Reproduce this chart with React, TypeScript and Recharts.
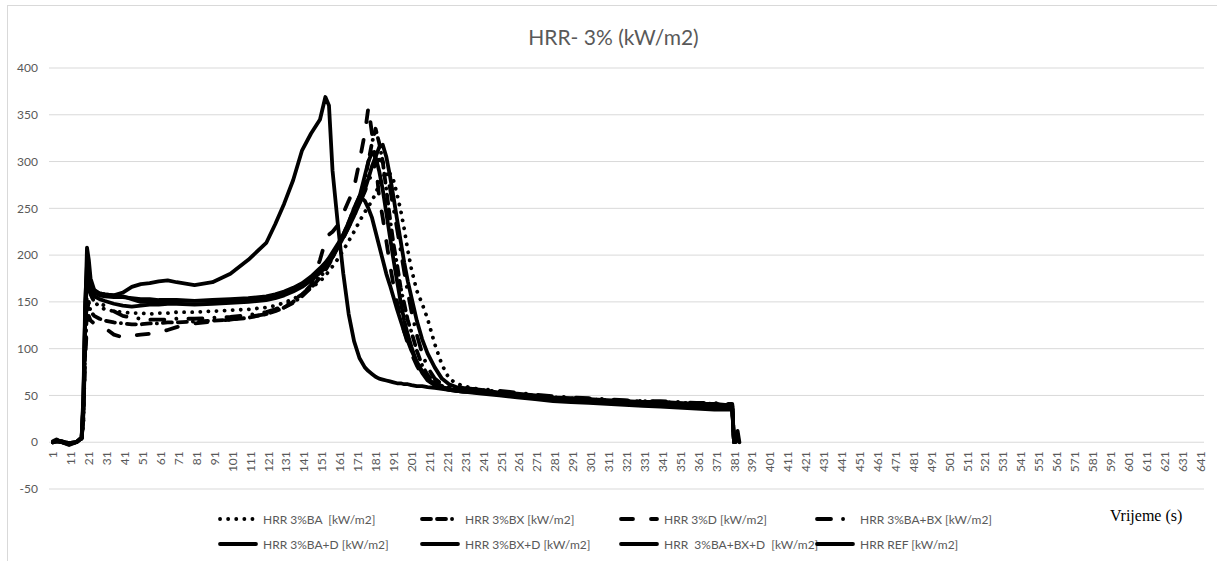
import { LineChart, Line, XAxis, YAxis, CartesianGrid } from "recharts";

// sample times (s)
const TIME = [
  1, 3, 6, 10, 14, 17, 18, 19, 20, 21,
  22, 24, 27, 30, 35, 40, 45, 50, 55, 60,
  65, 70, 80, 90, 100, 110, 120, 125, 130, 135,
  140, 145, 150, 153, 155, 157, 160, 163, 166, 169,
  172, 175, 177, 179, 181, 183, 185, 187, 189, 191,
  193, 195, 197, 199, 201, 204, 207, 210, 214, 218,
  222, 226, 230, 240, 250, 260, 270, 280, 290, 300,
  310, 320, 330, 340, 350, 360, 370, 376, 380, 381,
  382, 383, 384,
];

const HRR_BA = [
  0, 1, 0, -1, 0, 3, 20, 100, 160, 175,
  160, 150, 145, 142, 140, 139, 138, 138, 137, 138,
  138, 139, 139, 140, 141, 142, 144, 146, 149, 153,
  158, 165, 172, 178, 183, 188, 196, 205, 215, 225,
  236, 246, 252, 258, 266, 275, 283, 289, 287, 280,
  265, 248, 228, 205, 185, 162, 148, 132, 105, 83,
  68, 63, 60, 56, 54, 51, 50, 48, 47, 46,
  45, 44, 44, 43, 42, 42, 41, 40, 40, 0,
  null, null, null,
];

const HRR_BX = [
  0, 1, 1, -1, 0, 4, 30, 100, 140, 150,
  140, 135, 132, 130, 128, 127, 126, 126, 127, 127,
  128, 128, 129, 130, 131, 133, 137, 140, 144, 149,
  156, 165, 176, 184, 190, 197, 210, 222, 235, 250,
  262, 280, 300, 320, 335, 320, 300, 270, 240, 212,
  190, 165, 148, 130, 118, 98, 82, 72, 64, 60,
  58, 56, 55, 55, 52, 50, 48, 47, 45, 44,
  44, 43, 42, 41, 41, 40, 40, 39, 39, 0,
  null, null, null,
];

const HRR_D = [
  0, 2, 1, -2, 0, 4, 30, 90, 125, 135,
  130, 127, 124, 122, 115, 112, 114, 115, 116, 117,
  120, 123, 127, 129, 131, 134, 137, 140, 144, 150,
  158, 168, 195, 215, 222, 225, 232, 245, 258, 272,
  300, 330, 358, 330, 300, 262, 240, 215, 190, 168,
  150, 132, 118, 105, 95, 82, 72, 66, 62, 60,
  58, 57, 56, 54, 52, 49, 47, 46, 44, 43,
  42, 41, 40, 40, 39, 38, 37, 37, 36, 0,
  null, null, null,
];

const HRR_BA_BX = [
  0, 2, 0, -2, 0, 3, 25, 110, 160, 170,
  158, 150, 148, 146, 140, 135, 133, 132, 131, 131,
  131, 132, 132, 133, 134, 136, 139, 142, 146, 152,
  158, 167, 178, 186, 192, 198, 208, 218, 230, 242,
  255, 268, 278, 288, 298, 302, 300, 290, 272, 250,
  228, 205, 182, 160, 140, 115, 95, 80, 68, 62,
  60, 58, 57, 57, 55, 53, 51, 49, 48, 47,
  46, 45, 44, 44, 43, 42, 42, 41, 41, 0,
  null, null, null,
];

const HRR_BA_D = [
  0, 1, 0, -1, 0, 5, 50, 150, 190, 180,
  168, 160, 157, 156, 155, 155, 154, 153, 153, 152,
  152, 152, 151, 151, 152, 152, 154, 156, 159, 163,
  168, 175, 184, 190, 195, 200, 210, 220, 232, 245,
  262, 285, 300, 310, 305, 290, 270, 245, 220, 195,
  172, 150, 130, 115, 102, 85, 74, 66, 61, 58,
  56, 55, 54, 53, 51, 49, 47, 45, 44, 44,
  43, 42, 41, 40, 39, 38, 38, 37, 36, 0,
  null, null, null,
];

const HRR_BX_D = [
  0, 2, 1, -1, 0, 4, 45, 140, 180, 172,
  162, 156, 153, 151, 148, 146, 145, 146, 147, 147,
  148, 148, 147, 148, 149, 150, 152, 154, 157, 161,
  166, 173, 181, 187, 192, 198, 208, 219, 230, 242,
  255, 270, 282, 295, 305, 315, 318, 305, 285, 262,
  238, 215, 192, 172, 155, 130, 110, 95, 80, 68,
  62, 59, 58, 56, 53, 52, 50, 48, 47, 46,
  45, 44, 43, 43, 42, 41, 41, 40, 40, 0,
  null, null, null,
];

const HRR_BA_BX_D = [
  0, 1, 0, -2, 0, 4, 40, 130, 178, 185,
  170, 162, 159, 158, 157, 156, 153, 150, 150, 150,
  150, 151, 151, 152, 153, 154, 156, 158, 161, 165,
  170, 177, 186, 192, 197, 203, 212, 222, 235, 250,
  263, 258, 250, 240, 225, 210, 195, 180, 168, 155,
  142, 130, 118, 108, 98, 86, 76, 68, 62, 59,
  57, 55, 54, 54, 51, 50, 48, 46, 45, 44,
  43, 42, 41, 41, 40, 39, 38, 38, 37, 0,
  null, null, null,
];

const HRR_REF = [
  1, 3, 0, -3, 0, 5, 40, 140, 208, 195,
  175, 163, 159, 158, 157, 160, 166, 169, 170, 172,
  173, 171, 168, 171, 180, 195, 213, 233, 255, 280,
  312, 330, 345, 369, 360, 290, 232, 180, 137, 108,
  90, 80, 76, 73, 70, 68, 67, 66, 65, 64,
  63, 63, 62, 62, 61, 60, 60, 59, 58, 57,
  56, 55, 54, 52, 50, 48, 46, 44, 43, 42,
  41, 40, 39, 38, 37, 36, 35, 35, 35, 0,
  0, 12, 0,
];

const X_TICKS = Array.from({ length: 65 }, (_, i) => 1 + i * 10);
const Y_TICKS = [-50, 0, 50, 100, 150, 200, 250, 300, 350, 400];

const SERIES = [
  { key: "ba", name: "HRR 3%BA  [kW/m2]", values: HRR_BA, dash: "0.1 8" },
  { key: "bx", name: "HRR 3%BX [kW/m2]", values: HRR_BX, dash: "9 6 9 6 0.1 6" },
  { key: "d", name: "HRR 3%D [kW/m2]", values: HRR_D, dash: "12 18" },
  { key: "babx", name: "HRR 3%BA+BX [kW/m2]", values: HRR_BA_BX, dash: "14 12 0.1 12" },
  { key: "bad", name: "HRR 3%BA+D [kW/m2]", values: HRR_BA_D, dash: undefined },
  { key: "bxd", name: "HRR 3%BX+D [kW/m2]", values: HRR_BX_D, dash: undefined },
  { key: "babxd", name: "HRR  3%BA+BX+D  [kW/m2]", values: HRR_BA_BX_D, dash: undefined },
  { key: "ref", name: "HRR REF [kW/m2]", values: HRR_REF, dash: undefined },
];

const data = TIME.map((t, i) => {
  const row: Record<string, number | null> = { t };
  SERIES.forEach((s) => (row[s.key] = s.values[i]));
  return row;
});

const W = 1217;
const H = 561;
const MARGIN = { top: 68, right: 13, left: 0, bottom: 42 };
const X_AXIS_H = 30;
const Y_MIN = -50;
const Y_MAX = 400;
const PLOT_H = H - MARGIN.top - MARGIN.bottom - X_AXIS_H;
const ZERO_SHIFT = (PLOT_H * (0 - Y_MIN)) / (Y_MAX - Y_MIN);

const FONT = "Lato, 'Open Sans', sans-serif";
const GREY = "#595959";

// category labels sit next to the 0 line, not at the bottom of the plot
const XTick = ({ x, y, payload }: any) => {
  const ty = y - ZERO_SHIFT + 9;
  return (
    <text
      x={x}
      y={ty}
      transform={`rotate(-90, ${x}, ${ty})`}
      textAnchor="end"
      dominantBaseline="central"
      fill={GREY}
      fontSize={12}
      fontFamily={FONT}
    >
      {payload.value}
    </text>
  );
};

const LEGEND_COLS = [218, 420, 619, 815];
const LEGEND_ROWS = [519, 544];

const App = () => {
  return (
    <div style={{ position: "absolute", left: 0, top: 0, width: W, height: H, overflow: "hidden", background: "#fff" }}>
      <div
        style={{
          position: "absolute",
          left: 7,
          top: 5,
          width: W + 20,
          height: H + 20,
          border: "1px solid #d9d9d9",
        }}
      />
      <div
        style={{
          position: "absolute",
          left: 0,
          width: W,
          top: 24,
          textAlign: "center",
          paddingLeft: 10,
          boxSizing: "border-box",
          fontFamily: FONT,
          fontSize: 21,
          color: GREY,
        }}
      >
        HRR- 3% (kW/m2)
      </div>
      <div style={{ position: "absolute", left: 0, top: 0 }}>
        <LineChart width={W} height={H} data={data} margin={MARGIN}>
          <CartesianGrid vertical={false} stroke="#d9d9d9" />
          <XAxis
            dataKey="t"
            type="number"
            domain={[-1.2, 643.2]}
            ticks={X_TICKS}
            interval={0}
            height={X_AXIS_H}
            axisLine={false}
            tickLine={false}
            tickSize={0}
            tickMargin={0}
            tick={<XTick />}
          />
          <YAxis
            type="number"
            domain={[Y_MIN, Y_MAX]}
            ticks={Y_TICKS}
            width={49}
            axisLine={false}
            tickLine={false}
            tickSize={0}
            tickMargin={11}
            tick={{ fill: GREY, fontSize: 12, fontFamily: FONT }}
          />
          {SERIES.map((s) => (
            <Line
              key={s.key}
              dataKey={s.key}
              name={s.name}
              type="linear"
              stroke="#000"
              strokeWidth={3.8}
              strokeDasharray={s.dash}
              strokeLinecap="round"
              strokeLinejoin="round"
              dot={false}
              isAnimationActive={false}
            />
          ))}
        </LineChart>
      </div>
      {SERIES.map((s, i) => (
        <div
          key={s.key}
          style={{
            position: "absolute",
            left: LEGEND_COLS[i % 4],
            top: LEGEND_ROWS[Math.floor(i / 4)] - 9,
            height: 18,
            display: "flex",
            alignItems: "center",
            fontFamily: FONT,
            fontSize: 12,
            color: GREY,
            whiteSpace: "pre",
          }}
        >
          <svg width={40} height={18} style={{ marginRight: 5 }}>
            <line
              x1={2}
              y1={9}
              x2={38}
              y2={9}
              stroke="#000"
              strokeWidth={3.8}
              strokeDasharray={s.dash}
              strokeLinecap="round"
            />
          </svg>
          {s.name}
        </div>
      ))}
      <div
        style={{
          position: "absolute",
          left: 1110,
          top: 507,
          fontFamily: "'Liberation Serif', 'Times New Roman', serif",
          fontSize: 16,
          color: "#000",
        }}
      >
        Vrijeme (s)
      </div>
    </div>
  );
};

export default App;
